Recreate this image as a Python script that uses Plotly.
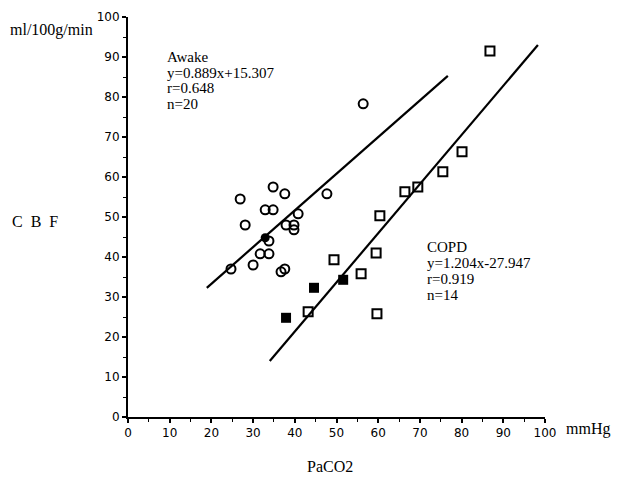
import plotly.graph_objects as go

# Awake group (circles)
awake_open_x = [34.8, 37.6, 26.9, 47.7, 32.9, 34.8, 40.8, 28.1, 37.9, 39.8, 39.8,
                33.8, 31.7, 33.8, 24.7, 30.0, 36.7, 37.6, 56.4]
awake_open_y = [57.5, 55.8, 54.5, 55.8, 51.8, 51.8, 50.8, 48.0, 48.0, 48.0, 46.8,
                44.0, 40.8, 40.8, 37.0, 38.0, 36.3, 37.0, 78.3]
awake_filled_x = [32.9]
awake_filled_y = [44.8]

# COPD group (squares)
copd_open_x = [43.2, 49.4, 55.9, 59.5, 59.7, 60.4, 66.4, 69.5, 75.5, 80.1, 86.8]
copd_open_y = [26.3, 39.3, 35.8, 41.0, 25.8, 50.3, 56.3, 57.5, 61.3, 66.3, 91.5]
copd_filled_x = [37.9, 44.6, 51.6]
copd_filled_y = [24.8, 32.3, 34.3]

# regression lines as drawn
awake_fit_x = [18.9, 76.7]
awake_fit_y = [32.3, 85.3]
copd_fit_x = [34.0, 98.3]
copd_fit_y = [14.0, 93.0]

awake_text = ["Awake", "y=0.889x+15.307", "r=0.648", "n=20"]
copd_text = ["COPD", "y=1.204x-27.947", "r=0.919", "n=14"]

tick_vals = [0, 10, 20, 30, 40, 50, 60, 70, 80, 90, 100]

fig = go.Figure()
fig.add_trace(go.Scatter(x=awake_fit_x, y=awake_fit_y, mode="lines",
                         line=dict(color="black", width=2.2), showlegend=False))
fig.add_trace(go.Scatter(x=copd_fit_x, y=copd_fit_y, mode="lines",
                         line=dict(color="black", width=2.2), showlegend=False))
fig.add_trace(go.Scatter(x=awake_open_x, y=awake_open_y, mode="markers",
                         marker=dict(symbol="circle-open", size=9, color="black",
                                     line=dict(width=2, color="black")), showlegend=False))
fig.add_trace(go.Scatter(x=awake_filled_x, y=awake_filled_y, mode="markers",
                         marker=dict(symbol="circle", size=9, color="black"), showlegend=False))
fig.add_trace(go.Scatter(x=copd_open_x, y=copd_open_y, mode="markers",
                         marker=dict(symbol="square-open", size=9, color="black",
                                     line=dict(width=2, color="black")), showlegend=False))
fig.add_trace(go.Scatter(x=copd_filled_x, y=copd_filled_y, mode="markers",
                         marker=dict(symbol="square", size=10, color="black"), showlegend=False))

serif = "Liberation Serif"
ann = []
for i, t in enumerate(awake_text):
    ann.append(dict(x=8.9, y=90.0 - i * 3.9, xref="x", yref="y", text=t, showarrow=False,
                    xanchor="left", yanchor="middle", font=dict(family=serif, size=15, color="black")))
for i, t in enumerate(copd_text):
    ann.append(dict(x=71.2, y=42.5 - i * 4.0, xref="x", yref="y", text=t, showarrow=False,
                    xanchor="left", yanchor="middle", font=dict(family=serif, size=15, color="black")))
ann.append(dict(x=-0.288, y=0.9675, xref="paper", yref="paper", text="ml/100g/min", showarrow=False,
                xanchor="left", yanchor="middle", font=dict(family=serif, size=16, color="black")))
ann.append(dict(x=-0.283, y=0.4875, xref="paper", yref="paper", text="C&nbsp;&nbsp;B&nbsp;&nbsp;F",
                showarrow=False, xanchor="left", yanchor="middle",
                font=dict(family=serif, size=16, color="black")))
ann.append(dict(x=1.0456, y=-0.03, xref="paper", yref="paper", text="mmHg", showarrow=False,
                xanchor="left", yanchor="middle", font=dict(family=serif, size=16, color="black")))
ann.append(dict(x=0.484, y=-0.1225, xref="paper", yref="paper", text="PaCO2", showarrow=False,
                xanchor="center", yanchor="middle", font=dict(family=serif, size=16, color="black")))

axis_common = dict(range=[0, 100], tickvals=tick_vals, showgrid=False, zeroline=False,
                   showline=True, linecolor="black", linewidth=2, ticks="outside",
                   ticklen=4, tickwidth=1.5, tickcolor="black", automargin=False,
                   tickfont=dict(family="DejaVu Sans", size=12, color="black"),
                   minor=dict(dtick=5, ticks="outside", ticklen=3, tickcolor="black", tickwidth=1))
fig.update_xaxes(**axis_common)
fig.update_yaxes(**axis_common)
fig.update_layout(width=613, height=470, margin=dict(l=120, r=76, t=9, b=61),
                  paper_bgcolor="white", plot_bgcolor="white", annotations=ann)
fig.write_html("out.html")
